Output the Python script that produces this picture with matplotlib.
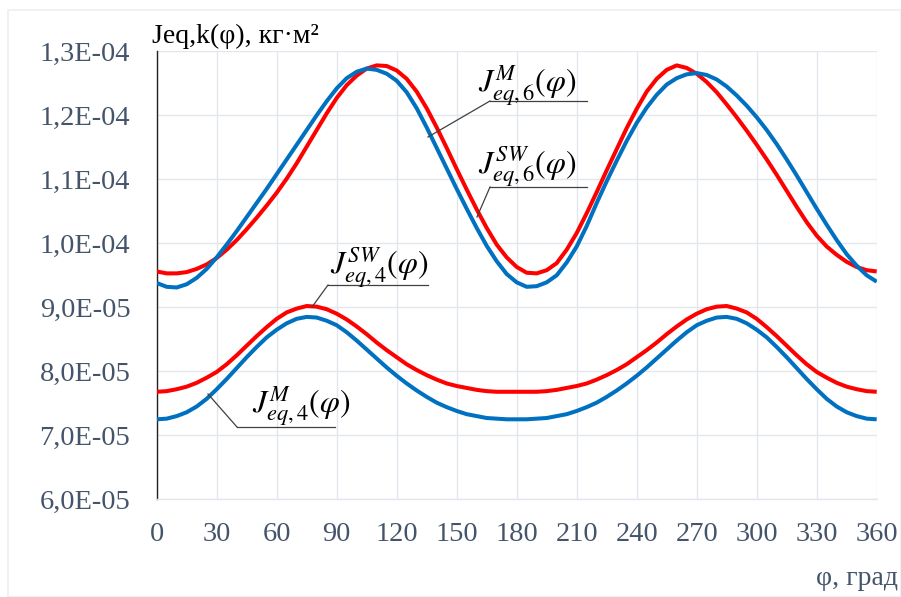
import matplotlib
matplotlib.use("Agg")
import matplotlib.pyplot as plt
from matplotlib.patches import Rectangle
from matplotlib.lines import Line2D

plt.rcParams['font.family'] = ['Liberation Serif', 'DejaVu Serif']
plt.rcParams['mathtext.fontset'] = 'stix'

# ---- data (values in units of 1e-5 kg*m^2), phi step 5 degrees ----
phi = list(range(0, 361, 5))
scale = 1e-5

J6_SW = [9.56, 9.53, 9.53, 9.55, 9.60, 9.67, 9.77, 9.90, 10.05, 10.22,
         10.40, 10.59, 10.79, 11.01, 11.25, 11.51, 11.77, 12.03, 12.27, 12.47,
         12.62, 12.73, 12.78, 12.77, 12.70, 12.57, 12.37, 12.11, 11.81, 11.49,
         11.16, 10.84, 10.53, 10.24, 9.98, 9.78, 9.63, 9.54, 9.53, 9.58,
         9.69, 9.90, 10.16, 10.47, 10.80, 11.14, 11.47, 11.80, 12.10, 12.37,
         12.57, 12.71, 12.78, 12.74, 12.65, 12.52, 12.36, 12.17, 11.97, 11.76,
         11.54, 11.31, 11.07, 10.82, 10.57, 10.33, 10.12, 9.95, 9.82, 9.71,
         9.63, 9.58, 9.56]
J6_M = [9.38, 9.32, 9.31, 9.36, 9.46, 9.60, 9.78, 9.98, 10.19, 10.41,
        10.63, 10.85, 11.08, 11.31, 11.54, 11.77, 12.00, 12.22, 12.42, 12.58,
        12.68, 12.73, 12.71, 12.65, 12.54, 12.36, 12.11, 11.81, 11.49, 11.17,
        10.85, 10.54, 10.24, 9.96, 9.72, 9.52, 9.39, 9.32, 9.33, 9.39,
        9.50, 9.70, 9.95, 10.27, 10.63, 10.97, 11.29, 11.60, 11.88, 12.12,
        12.32, 12.48, 12.58, 12.64, 12.66, 12.63, 12.56, 12.45, 12.31, 12.15,
        11.97, 11.77, 11.55, 11.31, 11.06, 10.80, 10.54, 10.29, 10.05, 9.83,
        9.65, 9.50, 9.40]
J4_SW = [7.68, 7.69, 7.72, 7.76, 7.82, 7.90, 7.99, 8.11, 8.25, 8.40,
         8.55, 8.69, 8.82, 8.92, 8.98, 9.02, 9.01, 8.97, 8.90, 8.81,
         8.70, 8.58, 8.45, 8.33, 8.22, 8.11, 8.02, 7.94, 7.87, 7.81,
         7.77, 7.74, 7.71, 7.69, 7.68, 7.68, 7.68,
         7.68, 7.68, 7.69, 7.71, 7.74, 7.77, 7.81, 7.87, 7.94, 8.02,
         8.11, 8.22, 8.33, 8.45, 8.58, 8.70, 8.81, 8.90, 8.97, 9.01,
         9.02, 8.98, 8.92, 8.82, 8.69, 8.55, 8.40, 8.25, 8.11, 7.99,
         7.90, 7.82, 7.76, 7.72, 7.69, 7.68]
J4_M = [7.25, 7.26, 7.30, 7.36, 7.45, 7.57, 7.72, 7.88, 8.05, 8.22,
        8.38, 8.53, 8.65, 8.75, 8.82, 8.85, 8.84, 8.79, 8.72, 8.61,
        8.48, 8.34, 8.20, 8.06, 7.93, 7.81, 7.70, 7.60, 7.51, 7.44,
        7.38, 7.33, 7.30, 7.27, 7.26, 7.25, 7.25,
        7.25, 7.26, 7.27, 7.30, 7.33, 7.38, 7.44, 7.51, 7.60, 7.70,
        7.81, 7.93, 8.06, 8.20, 8.34, 8.48, 8.61, 8.72, 8.79, 8.84,
        8.85, 8.82, 8.75, 8.65, 8.53, 8.38, 8.22, 8.05, 7.88, 7.72,
        7.57, 7.45, 7.36, 7.30, 7.26, 7.25]

x_ticks = list(range(0, 361, 30))
y_tick_vals = [6, 7, 8, 9, 10, 11, 12, 13]
y_tick_labels = ["6,0E-05", "7,0E-05", "8,0E-05", "9,0E-05",
                 "1,0E-04", "1,1E-04", "1,2E-04", "1,3E-04"]

RED = '#FF0000'
BLUE = '#0070C0'
TICK_COLOR = '#44546A'
GRID = '#E4E6EE'

W, H = 901, 597
fig = plt.figure(figsize=(W / 100, H / 100), dpi=100)
fig.patch.set_facecolor('white')

# outer chart border
fig.add_artist(Rectangle((8 / W, 0), (W - 8) / W, (H - 10) / H,
                         transform=fig.transFigure, fill=False,
                         edgecolor='#EEEEF3', linewidth=1.2))

ax = fig.add_axes([156.7 / W, (H - 499.3) / H, 720 / W, 448 / H])

lw = 2.9
for ys, c in [(J6_SW, RED), (J6_M, BLUE), (J4_SW, RED), (J4_M, BLUE)]:
    ax.plot(phi[:len(ys)], [v * scale for v in ys], color=c, lw=lw,
            solid_joinstyle='round', solid_capstyle='butt', zorder=3)

ax.set_xlim(0, 360)
ax.set_ylim(6 * scale, 13 * scale)
ax.set_xticks(x_ticks)
ax.set_xticklabels([str(t) for t in x_ticks])
ax.set_yticks([v * scale for v in y_tick_vals])
ax.set_yticklabels(y_tick_labels)
ax.tick_params(axis='both', length=0, labelsize=20.5, labelcolor=TICK_COLOR)
ax.tick_params(axis='x', pad=16)
ax.tick_params(axis='y', pad=19)
ax.grid(True, color=GRID, lw=1.0, zorder=0)
ax.set_axisbelow(True)
for s in ['top', 'right']:
    ax.spines[s].set_visible(False)
ax.spines['bottom'].set_color(GRID)
ax.spines['bottom'].set_linewidth(1.0)
ax.spines['left'].set_color('#222222')
ax.spines['left'].set_linewidth(1.0)

# axis titles
fig.text(152 / W, 1 - 43 / H, 'Jeq,k(φ), кг·м²', fontsize=20, color='black',
         ha='left', va='baseline')
fig.text(898 / W, 1 - 585 / H, 'φ, град', fontsize=20, color=TICK_COLOR,
         ha='right', va='baseline')


def px(x, y):
    return x / W, 1 - y / H


def label(text, tx, ty, ul_x0, ul_x1, ul_y, lead_x, lead_y):
    fig.text(*px(tx, ty), text, fontsize=23, ha='left', va='baseline')
    fig.add_artist(Line2D([ul_x0 / W, ul_x1 / W], [1 - ul_y / H, 1 - ul_y / H],
                          transform=fig.transFigure, color='#404040', lw=0.9))
    fig.add_artist(Line2D([ul_x0 / W, lead_x / W], [1 - ul_y / H, 1 - lead_y / H],
                          transform=fig.transFigure, color='#404040', lw=0.9))


label(r'$J^{M}_{eq,6}(\varphi)$', 478, 92, 490, 587, 101, 428, 137)
label(r'$J^{SW}_{eq,6}(\varphi)$', 478, 174, 490, 587, 187, 477, 217)
label(r'$J^{SW}_{eq,4}(\varphi)$', 330, 274, 328, 428, 285, 312, 307)
label(r'$J^{M}_{eq,4}(\varphi)$', 252, 412, 237, 335, 427, 208, 394)

fig.savefig('out.png', dpi=100)
